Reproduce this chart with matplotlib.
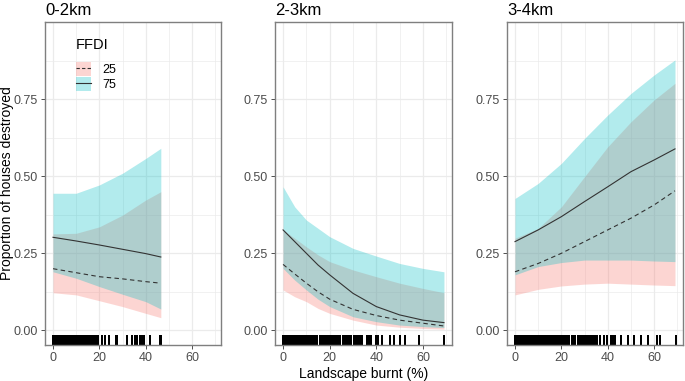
import matplotlib
matplotlib.use("Agg")
import matplotlib.pyplot as plt
from matplotlib.patches import Patch
from matplotlib.lines import Line2D

plt.rcParams["font.family"] = ["Liberation Sans", "DejaVu Sans"]

titles = ["0-2km", "2-3km", "3-4km"]
ffdi_levels = ["25", "75"]

# Panel 1 (0-2km)
x1 = [0, 10, 20, 30, 40, 46.5]
fit25_1 = [0.199, 0.186, 0.173, 0.166, 0.157, 0.152]
lo25_1 = [0.121, 0.114, 0.095, 0.076, 0.054, 0.040]
hi25_1 = [0.312, 0.314, 0.335, 0.373, 0.422, 0.449]
fit75_1 = [0.301, 0.289, 0.276, 0.262, 0.248, 0.237]
lo75_1 = [0.189, 0.168, 0.141, 0.116, 0.092, 0.068]
hi75_1 = [0.444, 0.444, 0.471, 0.509, 0.557, 0.590]

# Panel 2 (2-3km)
x2 = [0, 5, 10, 15, 20, 30, 40, 50, 60, 69]
fit25_2 = [0.213, 0.182, 0.152, 0.124, 0.100, 0.067, 0.047, 0.032, 0.022, 0.013]
lo25_2 = [0.130, 0.108, 0.092, 0.070, 0.054, 0.032, 0.016, 0.009, 0.005, 0.003]
hi25_2 = [0.325, 0.298, 0.270, 0.244, 0.222, 0.195, 0.173, 0.152, 0.135, 0.121]
fit75_2 = [0.325, 0.287, 0.249, 0.211, 0.179, 0.119, 0.076, 0.049, 0.032, 0.024]
lo75_2 = [0.200, 0.162, 0.130, 0.100, 0.076, 0.043, 0.027, 0.016, 0.011, 0.008]
hi75_2 = [0.465, 0.400, 0.357, 0.330, 0.303, 0.265, 0.240, 0.216, 0.200, 0.189]

# Panel 3 (3-4km)
x3 = [0, 10, 20, 30, 40, 50, 60, 69]
fit25_3 = [0.189, 0.216, 0.249, 0.287, 0.325, 0.363, 0.406, 0.452]
lo25_3 = [0.114, 0.132, 0.143, 0.149, 0.152, 0.149, 0.146, 0.144]
hi25_3 = [0.298, 0.330, 0.400, 0.498, 0.595, 0.676, 0.747, 0.801]
fit75_3 = [0.287, 0.325, 0.368, 0.417, 0.465, 0.514, 0.552, 0.588]
lo75_3 = [0.179, 0.206, 0.219, 0.227, 0.227, 0.227, 0.224, 0.222]
hi75_3 = [0.427, 0.476, 0.541, 0.622, 0.698, 0.768, 0.828, 0.877]

# Rug values (landscape burnt %)
rug1 = [0, 0.5, 1, 1.5, 2, 2.5, 3, 3.5, 4, 4.5, 5, 5.5, 6, 6.5, 7, 7.5, 8, 8.5,
        9, 9.5, 10, 10.5, 11, 11.5, 12, 12.5, 13, 13.5, 14, 14.5, 15, 15.5, 16,
        16.5, 17, 17.5, 18.2, 18.8, 19.5, 21.2, 22.5, 24.2, 27.2, 27.8, 31.9,
        34.2, 35.2, 36.2, 37.4, 38.4, 39.3, 42, 46, 46.6]
rug2 = [0, 0.5, 1, 1.5, 2, 2.5, 3, 3.5, 4, 4.5, 5, 5.5, 6, 6.5, 7, 7.5, 8, 8.5,
        9, 9.5, 10, 10.5, 11, 11.5, 12, 12.5, 13, 13.5, 14, 14.5, 15.7, 16.6,
        17.5, 18.4, 19.3, 20.1, 21, 21.9, 22.8, 23.7, 24.6, 25.5, 26.4, 27.3,
        28.1, 29.3, 30.5, 31.4, 32, 32.9, 33.8, 36.1, 37, 37.9, 39.7, 40.6,
        42.4, 45.9, 47.7, 50, 52.1, 58.5, 69]
rug3 = [0, 0.5, 1, 1.5, 2, 2.5, 3, 3.5, 4, 4.5, 5, 5.5, 6, 6.5, 7, 7.5, 8, 8.5,
        9, 9.5, 10, 10.5, 11, 11.5, 12, 12.5, 13, 13.5, 14, 14.5, 15, 15.8,
        16.8, 17.5, 18.3, 19, 19.8, 20.5, 21.3, 22, 22.5, 23, 23.5, 24.5, 25.3,
        26, 27, 28, 28.5, 29, 29.5, 30, 30.5, 31, 31.5, 32, 32.5, 33, 33.5, 34,
        34.5, 35.2, 36.7, 38.2, 39.7, 41.2, 42.1, 43, 45.6, 48.9, 51.5, 54.3,
        57.5, 61.2, 62.5, 69.3]

panels = [
    (x1, fit25_1, lo25_1, hi25_1, fit75_1, lo75_1, hi75_1, rug1),
    (x2, fit25_2, lo25_2, hi25_2, fit75_2, lo75_2, hi75_2, rug2),
    (x3, fit25_3, lo25_3, hi25_3, fit75_3, lo75_3, hi75_3, rug3),
]

PINK = "#F8766D"
CYAN = "#00BFC4"
GRID = "#EBEBEB"
TXT = "#4D4D4D"
LINE = "#333333"

fig = plt.figure(figsize=(6.85, 3.81), dpi=100)
lefts = [45, 275, 507]
widths = [176, 177, 176]
W, H = 685, 381
axes = []
for i, (l, w) in enumerate(zip(lefts, widths)):
    ax = fig.add_axes([l / W, 1 - 345 / H, w / W, 323 / H])
    axes.append(ax)
    x, f25, lo25, hi25, f75, lo75, hi75, rug = panels[i]
    ax.fill_between(x, lo25, hi25, color=PINK, alpha=0.3, linewidth=0)
    ax.fill_between(x, lo75, hi75, color=CYAN, alpha=0.3, linewidth=0)
    ax.plot(x, f25, color=LINE, lw=0.8, ls=(0, (4, 3)))
    ax.plot(x, f75, color=LINE, lw=0.8)
    ax.vlines(rug, 0, 0.03, transform=ax.get_xaxis_transform(),
              color="black", lw=1.44, antialiased=False)
    ax.set_xlim(-3.45, 72.45)
    ax.set_ylim(-0.0487, 1.0)
    ax.set_xticks([0, 20, 40, 60])
    ax.set_xticks([10, 30, 50, 70], minor=True)
    ax.set_yticks([0, 0.25, 0.5, 0.75])
    ax.set_yticks([0.125, 0.375, 0.625, 0.875], minor=True)
    ax.set_yticklabels(["0.00", "0.25", "0.50", "0.75"])
    ax.grid(True, which="major", color=GRID, lw=0.9)
    ax.grid(True, which="minor", color=GRID, lw=0.5)
    ax.set_axisbelow(True)
    ax.tick_params(which="major", length=3, color="#333333", labelcolor=TXT,
                   labelsize=9, width=0.6, pad=2)
    ax.tick_params(which="minor", length=0)
    for s in ax.spines.values():
        s.set_color("#7f7f7f")
        s.set_linewidth(1.0)
    ax.set_title(titles[i], loc="left", fontsize=12, pad=5)

axes[0].set_ylabel("Proportion of houses destroyed", fontsize=10)
axes[0].yaxis.set_label_coords(-0.178, 0.5)
axes[1].set_xlabel("Landscape burnt (%)", fontsize=10, labelpad=2)

handles = [
    (Patch(facecolor=PINK, alpha=0.3, edgecolor="none"),
     Line2D([], [], color=LINE, lw=0.8, ls=(0, (3, 2)))),
    (Patch(facecolor=CYAN, alpha=0.3, edgecolor="none"),
     Line2D([], [], color=LINE, lw=0.8)),
]
leg = axes[0].legend(handles, ffdi_levels, title="FFDI", loc="upper left",
                     bbox_to_anchor=(0.175, 0.95), frameon=False, fontsize=9,
                     title_fontsize=10.5, handlelength=1.2, handleheight=1.4,
                     labelspacing=0.05, handletextpad=0.9, borderpad=0,
                     borderaxespad=0)
leg._legend_box.align = "left"
leg._legend_box.sep = 7

fig.savefig("out.png", dpi=100)
